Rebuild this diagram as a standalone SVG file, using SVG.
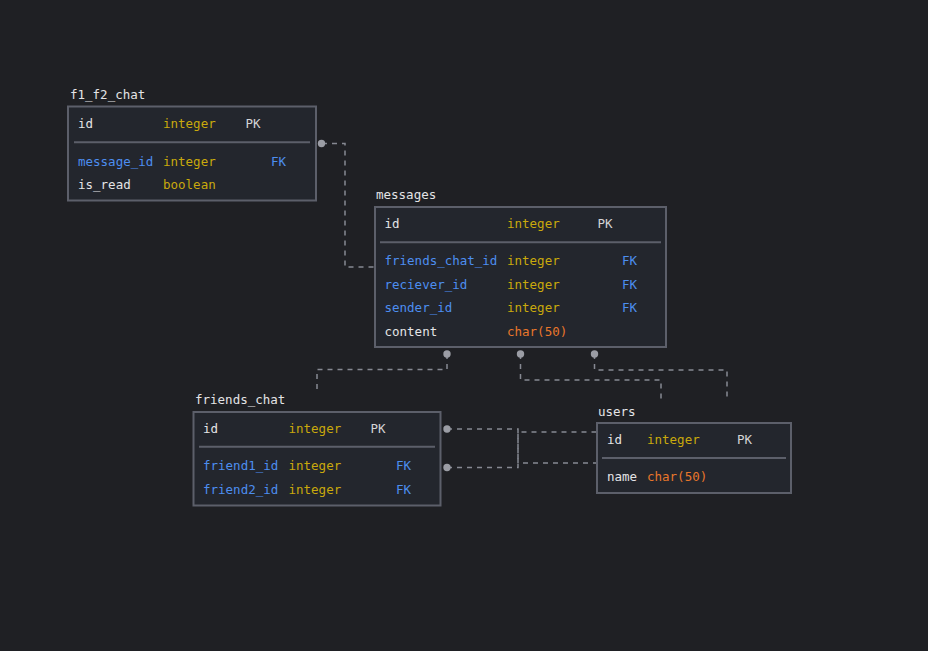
<svg xmlns="http://www.w3.org/2000/svg" width="928" height="651" viewBox="0 0 928 651">
  <style>
    text { font-family: "DejaVu Sans Mono", "Liberation Mono", monospace; font-size: 12.5px; }
    .box { fill: #23262d; stroke: #5c5f6a; stroke-width: 2; }
    .div { stroke: #5c5f6a; stroke-width: 2; }
    .title { fill: #e4e4e6; }
    .col { fill: #e4e4e6; }
    .fkcol { fill: #4d8ef0; }
    .type { fill: #c9a90c; }
    .char { fill: #e8762b; }
    .pk { fill: #d4d4d6; }
    .fk { fill: #4d8ef0; }
    .link { fill: none; stroke: #868992; stroke-width: 1.5; stroke-dasharray: 5 5; }
    .dot { fill: #9b9da5; }
  </style>
  <rect width="928" height="651" fill="#1f2024"/>

  <g id="connectors">
    <!-- f1_f2_chat.message_id -> messages.id -->
    <path class="link" d="M322,143.5 H345 V267 H375"/>
    <!-- messages -> friends_chat -->
    <path class="link" d="M447,354 V369.5 H317 V390"/>
    <!-- messages -> users -->
    <path class="link" d="M520.5,354 V380 H661 V401"/>
    <path class="link" d="M594.5,354 V370 H727 V401"/>
    <!-- friends_chat -> users -->
    <path class="link" d="M447,429 H518 V463 H597"/>
    <path class="link" d="M447,467.5 H518 V432 H597"/>
    <circle class="dot" cx="321.5" cy="143.5" r="3.7"/>
    <circle class="dot" cx="447" cy="354" r="3.7"/>
    <circle class="dot" cx="520.5" cy="354" r="3.7"/>
    <circle class="dot" cx="594.5" cy="354" r="3.7"/>
    <circle class="dot" cx="447" cy="429" r="3.7"/>
    <circle class="dot" cx="447" cy="467.5" r="3.7"/>
  </g>

  <g id="f1_f2_chat">
    <text class="title" x="70" y="99">f1_f2_chat</text>
    <rect class="box" x="68" y="106.5" width="248" height="94"/>
    <line class="div" x1="74" y1="142.3" x2="310" y2="142.3"/>
    <text class="col" x="78" y="128">id</text>
    <text class="type" x="163" y="128">integer</text>
    <text class="pk" x="245.5" y="128">PK</text>
    <text class="fkcol" x="78" y="165.5">message_id</text>
    <text class="type" x="163" y="165.5">integer</text>
    <text class="fk" x="271" y="165.5">FK</text>
    <text class="col" x="78" y="189">is_read</text>
    <text class="type" x="163" y="189">boolean</text>
  </g>

  <g id="messages">
    <text class="title" x="376" y="199">messages</text>
    <rect class="box" x="375" y="207" width="291" height="140"/>
    <line class="div" x1="380" y1="242.3" x2="661" y2="242.3"/>
    <text class="col" x="384.5" y="228.3">id</text>
    <text class="type" x="507" y="228.3">integer</text>
    <text class="pk" x="597.5" y="228.3">PK</text>
    <text class="fkcol" x="384.5" y="265">friends_chat_id</text>
    <text class="type" x="507" y="265">integer</text>
    <text class="fk" x="622" y="265">FK</text>
    <text class="fkcol" x="384.5" y="289">reciever_id</text>
    <text class="type" x="507" y="289">integer</text>
    <text class="fk" x="622" y="289">FK</text>
    <text class="fkcol" x="384.5" y="312.3">sender_id</text>
    <text class="type" x="507" y="312.3">integer</text>
    <text class="fk" x="622" y="312.3">FK</text>
    <text class="col" x="384.5" y="336">content</text>
    <text class="char" x="507" y="336">char(50)</text>
  </g>

  <g id="friends_chat">
    <text class="title" x="195" y="404">friends_chat</text>
    <rect class="box" x="193.5" y="412" width="247" height="93.5"/>
    <line class="div" x1="199" y1="446.7" x2="435" y2="446.7"/>
    <text class="col" x="203" y="433.3">id</text>
    <text class="type" x="288.5" y="433.3">integer</text>
    <text class="pk" x="370.5" y="433.3">PK</text>
    <text class="fkcol" x="203" y="470">friend1_id</text>
    <text class="type" x="288.5" y="470">integer</text>
    <text class="fk" x="396" y="470">FK</text>
    <text class="fkcol" x="203" y="494">friend2_id</text>
    <text class="type" x="288.5" y="494">integer</text>
    <text class="fk" x="396" y="494">FK</text>
  </g>

  <g id="users">
    <text class="title" x="598" y="416">users</text>
    <rect class="box" x="597" y="423" width="194" height="70"/>
    <line class="div" x1="602" y1="458" x2="786" y2="458"/>
    <text class="col" x="607" y="444">id</text>
    <text class="type" x="647" y="444">integer</text>
    <text class="pk" x="737" y="444">PK</text>
    <text class="col" x="607" y="481">name</text>
    <text class="char" x="647" y="481">char(50)</text>
  </g>
</svg>
